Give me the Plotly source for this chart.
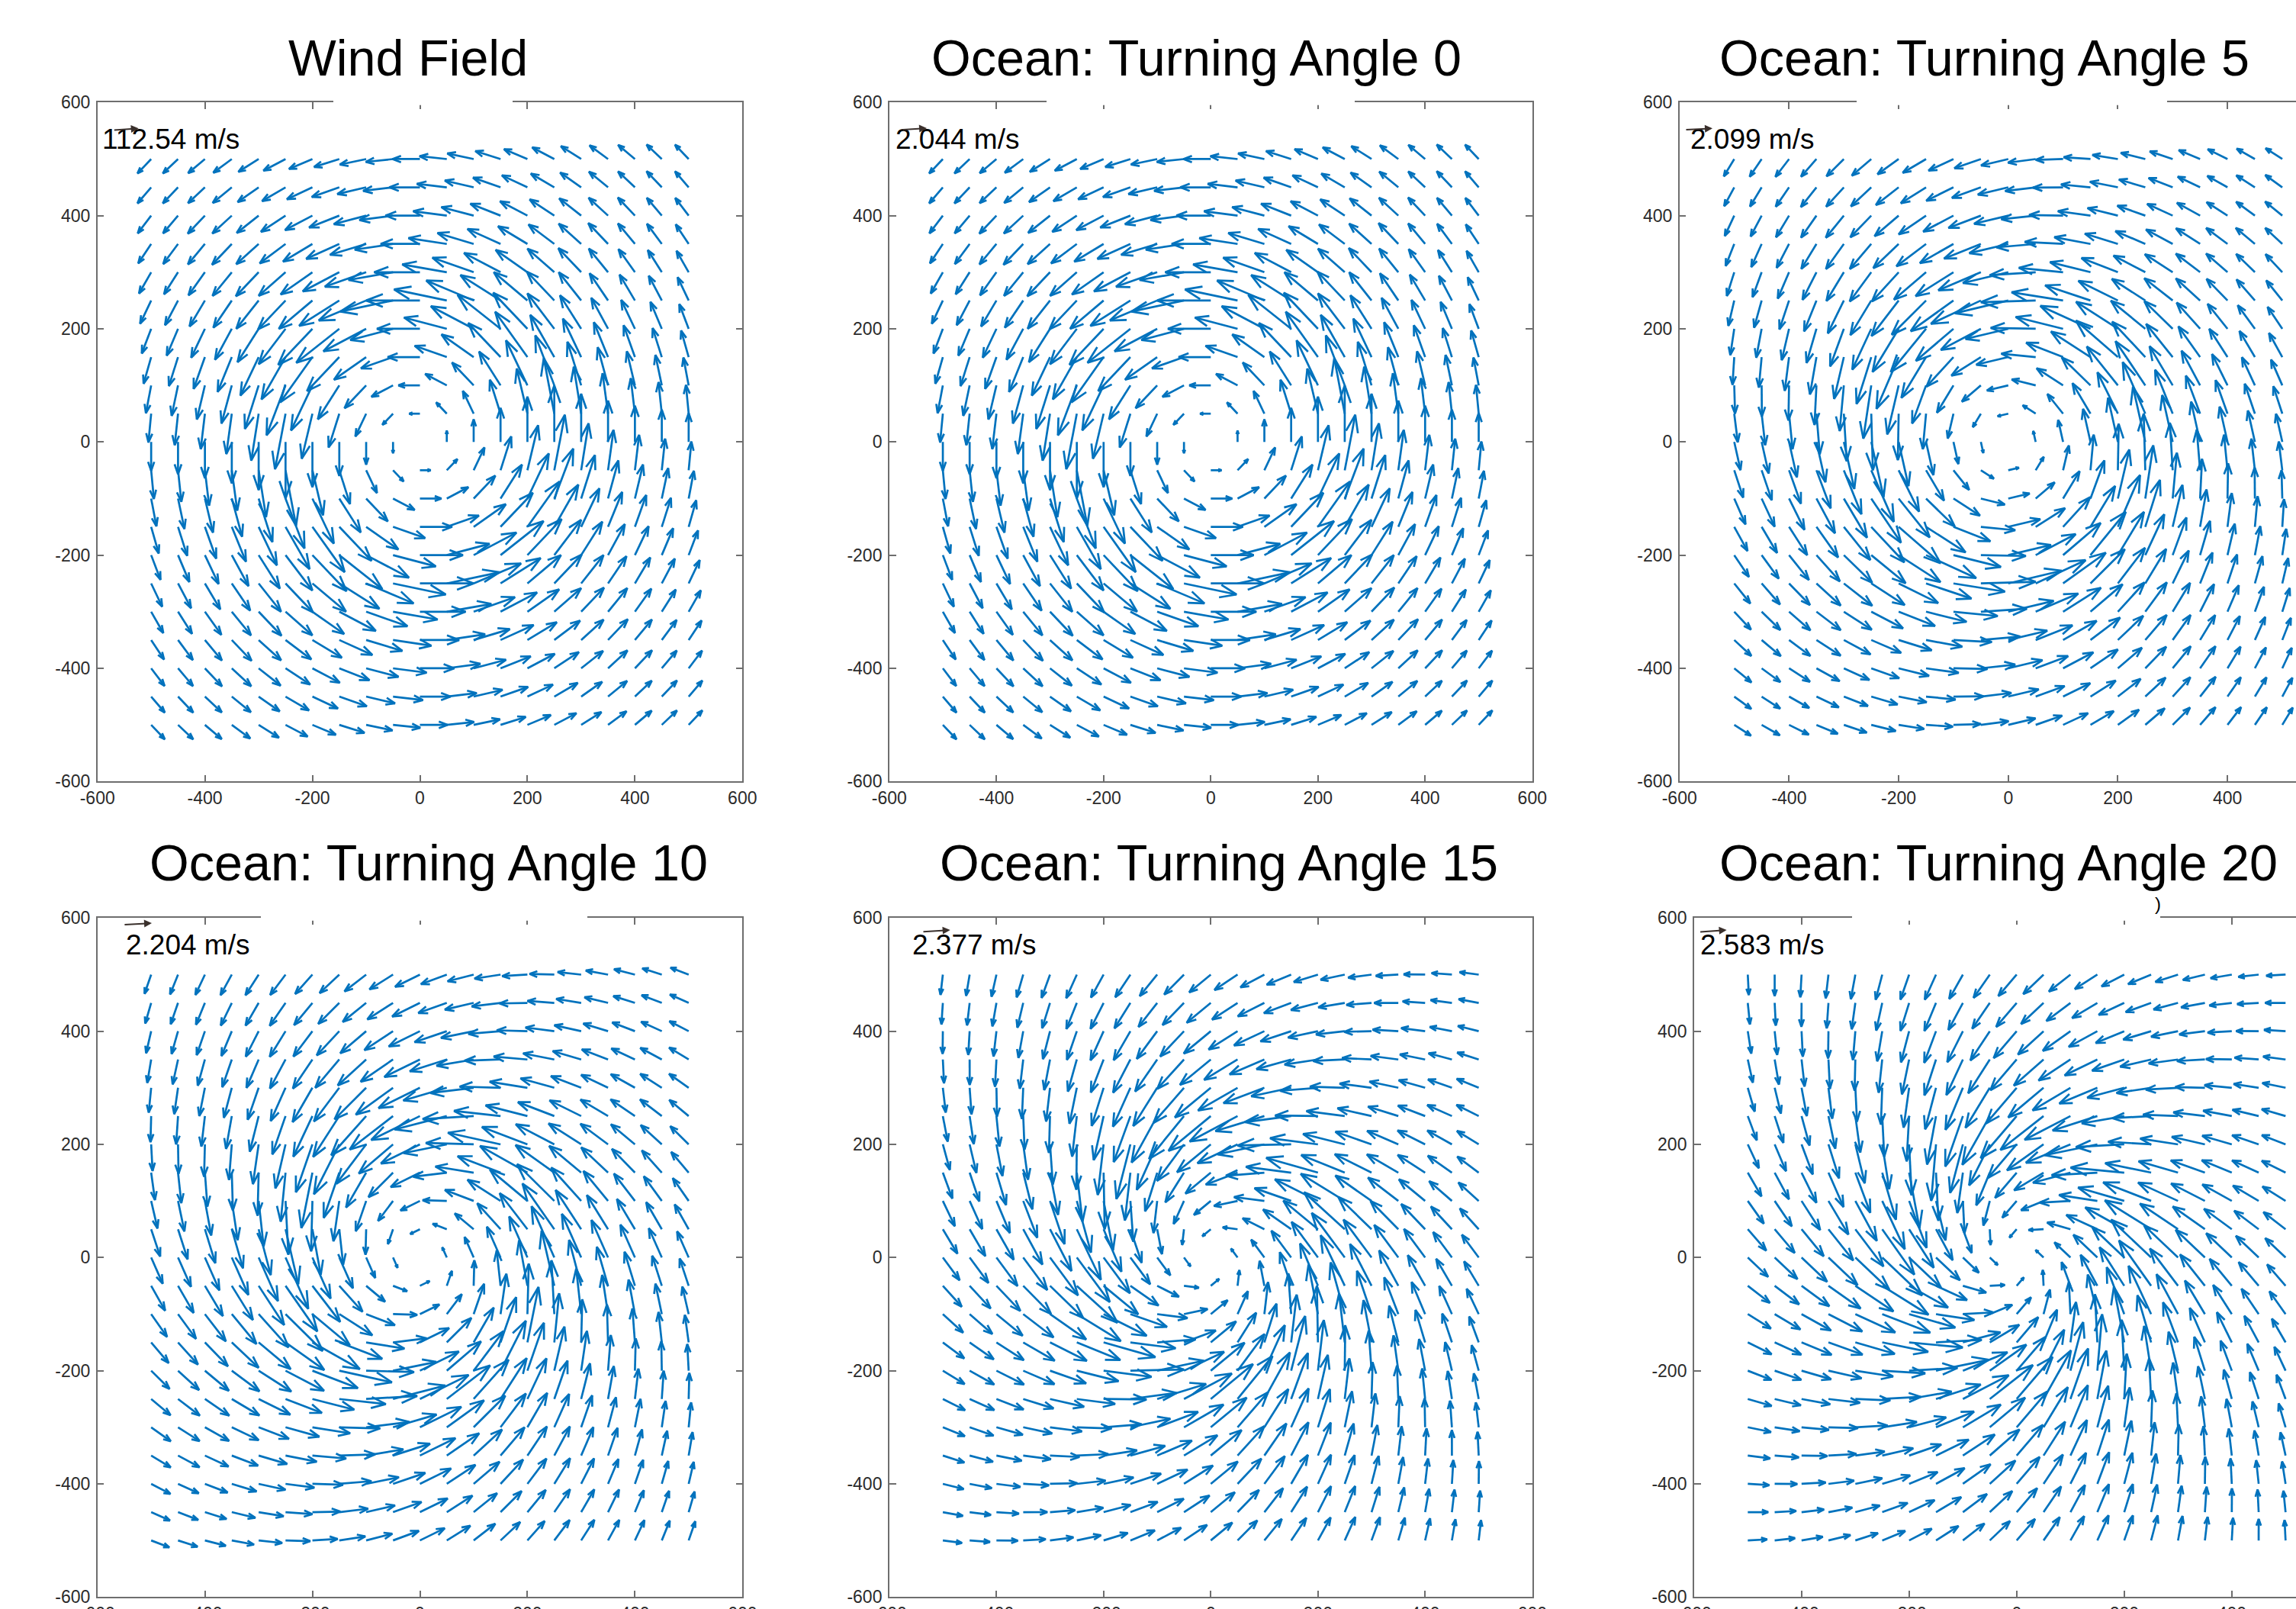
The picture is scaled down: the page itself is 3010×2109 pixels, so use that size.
import numpy as np
import plotly.graph_objects as go
import plotly.figure_factory as ff

# NOTE ON THE DATA: the roughly 2,600 arrows were not read one by one. A sample of arrows was measured on
# the reference; arrow_length was then filled in by hand for one quadrant, partly from a curve fitted by eye
# to those measurements, and rotation_deg was read per panel. Each arrow's direction is computed from its
# grid position and the panel's rotation, so individual arrows are approximate.

W, H = 3010, 2109

titles = ["Wind Field", "Ocean: Turning Angle 0", "Ocean: Turning Angle 5",
          "Ocean: Turning Angle 10", "Ocean: Turning Angle 15", "Ocean: Turning Angle 20"]
scale_labels = ["112.54 m/s", "2.044 m/s", "2.099 m/s", "2.204 m/s", "2.377 m/s", "2.583 m/s"]

# grid of arrow tails
grid_x = [-500, -450, -400, -350, -300, -250, -200, -150, -100, -50, 0,
          50, 100, 150, 200, 250, 300, 350, 400, 450, 500]
grid_y = grid_x
tick_values = [-600, -400, -200, 0, 200, 400, 600]
tick_labels = ["-600", "-400", "-200", "0", "200", "400", "600"]

# arrow length (data units) estimated for one quadrant: row = |x|/50, column = |y|/50
arrow_length = [
    [0, 20, 40, 60, 80, 100, 85, 73, 64, 57, 51],
    [20, 28, 45, 63, 82, 100, 84, 72, 63, 56, 51],
    [40, 45, 57, 72, 89, 95, 81, 70, 62, 55, 50],
    [60, 63, 72, 85, 100, 87, 76, 67, 60, 54, 49],
    [80, 82, 89, 100, 90, 80, 71, 63, 57, 52, 47],
    [100, 100, 95, 87, 80, 72, 65, 59, 54, 50, 46],
    [85, 84, 81, 76, 71, 65, 60, 55, 51, 47, 44],
    [73, 72, 70, 67, 63, 59, 55, 52, 48, 45, 42],
    [64, 63, 62, 60, 57, 54, 51, 48, 45, 42, 40],
    [57, 56, 55, 54, 52, 50, 47, 45, 42, 40, 38],
    [51, 51, 50, 49, 47, 46, 44, 42, 40, 38, 36],
]
# anticlockwise rotation (degrees) of the arrows from the pure tangent, read per panel
rotation_deg = [0, 0, 13, 25, 38, 48]

# layout, in page pixels: left, right, top, bottom, x-range end
panels = [
    (127.7, 973.3, 134.3, 1024.3, 600),
    (1165.8, 2008.8, 134.3, 1024.3, 600),
    (2201.7, 3010, 134.3, 1024.3, 525),
    (127.7, 973.3, 1203.3, 2093.3, 600),
    (1165.8, 2008.8, 1203.3, 2093.3, 600),
    (2220.8, 3010, 1203.3, 2093.3, 519.4),
]
title_pos = [(534.6, 76), (1568.3, 76), (2601, 76), (561.5, 1131), (1598, 1131), (2620.3, 1131)]
label_pos = [(132.3, 183), (1172, 183), (2214, 183), (163.3, 1238), (1193.7, 1238), (2227.2, 1238)]
ref_arrows = [((148.3, 170.7), (181.7, 168.3)), ((1182, 170), (1215, 168)), ((2209, 170), (2245, 168.3)),
              ((161.9, 1212), (199, 1210)), ((1209, 1221.3), (1245.7, 1219)), ((2227.6, 1221.7), (2263.6, 1219))]
axis_gaps = [(437, 672), (1372, 1776), (2434, 2841), (342, 770), None, (2428, 2832)]

BLUE = "#0072BD"
AXIS = "#6e6e6e"
TICK = "#2b2b2b"
FONT = "Liberation Sans"


def px(x):
    return x / W


def py(y):
    return 1 - y / H


fig = go.Figure()
annotations = []
shapes = []
L = np.array(arrow_length, dtype=float)
gx = np.array(grid_x, dtype=float)
gy = np.array(grid_y, dtype=float)

for k, (left, right, top, bottom, xmax) in enumerate(panels):
    X, Y = np.meshgrid(gx, gy)
    R = np.hypot(X, Y)
    R[R == 0] = 1
    lengths = L[(np.abs(X) / 50).astype(int), (np.abs(Y) / 50).astype(int)]
    a = np.deg2rad(rotation_deg[k])
    tx, ty = -Y / R, X / R
    U = lengths * (tx * np.cos(a) - ty * np.sin(a))
    V = lengths * (tx * np.sin(a) + ty * np.cos(a))
    q = ff.create_quiver(X.ravel(), Y.ravel(), U.ravel(), V.ravel(), scale=1, arrow_scale=0.33, angle=np.pi / 9)
    tr = q.data[0]
    suffix = "" if k == 0 else str(k + 1)
    tr.update(xaxis="x" + suffix, yaxis="y" + suffix, mode="lines",
              line=dict(color=BLUE, width=2.7), hoverinfo="skip", showlegend=False)
    fig.add_trace(tr)
    clipped = right >= W
    common = dict(tickmode="array", tickvals=tick_values, ticktext=tick_labels, ticks="inside", ticklen=9,
                  tickwidth=1.5, tickcolor=AXIS,
                  showline=True, linecolor=AXIS, linewidth=1.5, showgrid=False, zeroline=False,
                  tickfont=dict(family=FONT, size=23, color=TICK), ticklabeloverflow="allow")
    fig.layout["xaxis" + suffix] = dict(common, domain=[px(left), px(right)], range=[-600, xmax],
                                        anchor="y" + suffix, mirror="ticks", ticklabelstandoff=0)
    fig.layout["yaxis" + suffix] = dict(common, domain=[py(bottom), py(top)], range=[-600, 600],
                                        anchor="x" + suffix, mirror=False if clipped else "ticks",
                                        ticklabelstandoff=3)
    annotations.append(dict(text=titles[k], x=px(title_pos[k][0]), y=py(title_pos[k][1]), xref="paper", yref="paper",
                            xanchor="center", yanchor="middle", showarrow=False,
                            font=dict(family=FONT, size=66.5, color="black")))
    annotations.append(dict(text=scale_labels[k], x=px(label_pos[k][0]), y=py(label_pos[k][1]), xref="paper",
                            yref="paper", xanchor="left", yanchor="middle", showarrow=False,
                            font=dict(family=FONT, size=37, color="black")))
    (tx0, ty0), (tx1, ty1) = ref_arrows[k]
    annotations.append(dict(text="", x=px(tx1), y=py(ty1), xref="paper", yref="paper", ax=tx0 - tx1, ay=ty0 - ty1,
                            showarrow=True, arrowhead=2, arrowsize=1, arrowwidth=2, arrowcolor="#3a302c"))
    if axis_gaps[k]:
        g0, g1 = axis_gaps[k]
        shapes.append(dict(type="rect", xref="paper", yref="paper", x0=px(g0), x1=px(g1), y0=py(top - 6), y1=py(top + 3.5),
                           fillcolor="white", line=dict(width=0), layer="above"))

annotations.append(dict(text=")", x=px(2835), y=py(1184), xref="paper", yref="paper", showarrow=False,
                        font=dict(family=FONT, size=24, color="black")))

fig.update_layout(width=W, height=H, margin=dict(l=0, r=0, t=0, b=0, autoexpand=False), paper_bgcolor="white",
                  plot_bgcolor="white", showlegend=False, annotations=annotations, shapes=shapes)
fig.write_html("out.html", config=dict(displayModeBar=False),
               post_script="document.body.style.margin='0';document.documentElement.style.overflow='hidden';")
